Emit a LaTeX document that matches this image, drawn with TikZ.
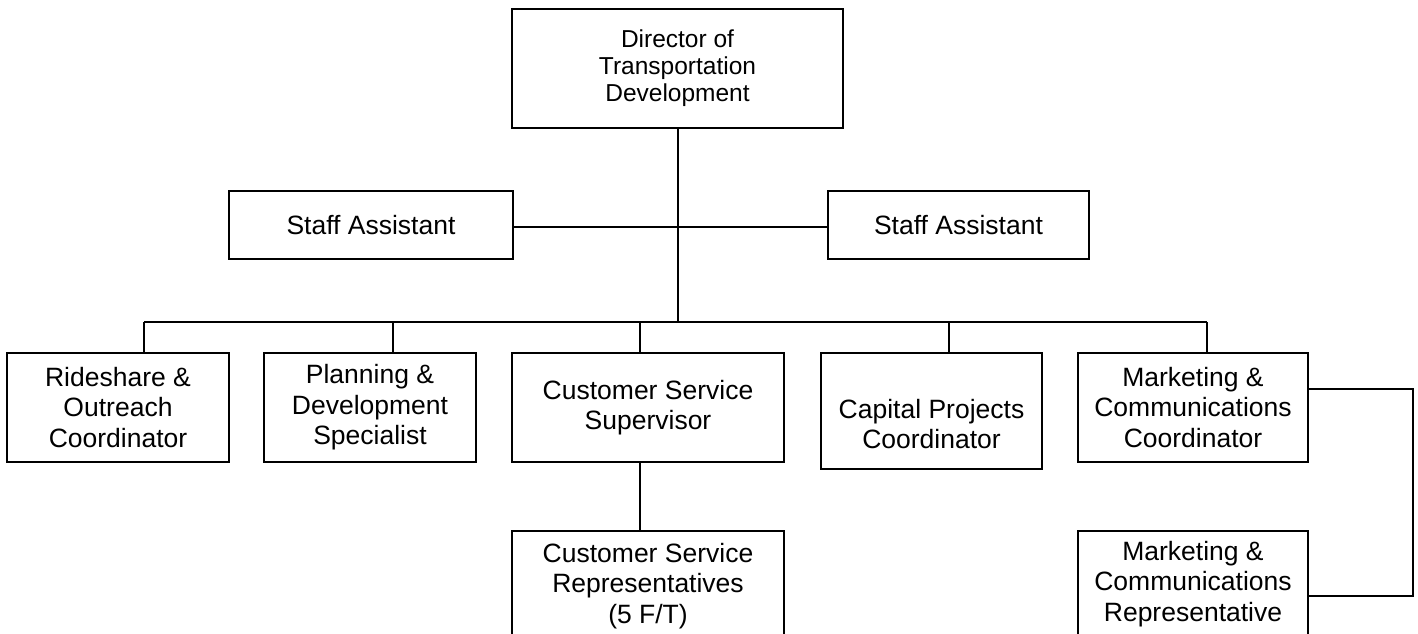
\documentclass[tikz,border=0pt]{standalone}
\usepackage{fontspec}
\setmainfont{Liberation Sans}
\begin{document}
\begin{tikzpicture}[x=1pt,y=-1pt,
  box/.style={draw,line width=2pt,align=center,inner sep=0pt,font=\fontsize{26.5}{30.5}\selectfont},
  txt/.style={align=center,inner sep=0pt,font=\fontsize{26.5}{30.5}\selectfont},
  conn/.style={line width=2pt}]
\path[use as bounding box] (0,0) rectangle (1418,634);
\clip (0,0) rectangle (1418,634);
% top
\node[box,minimum width=331,minimum height=119,font=\fontsize{24.5}{27}\selectfont] (dir) at (677.5,68.5) {Director of\\Transportation\\Development};
\node[box,minimum width=284,minimum height=68] (sa1) at (371,225) {Staff Assistant};
\node[box,minimum width=261,minimum height=68] (sa2) at (958.5,225) {Staff Assistant};
% middle row
\node[box,minimum width=222,minimum height=109] (ride) at (118,407.5) {Rideshare \&\\Outreach\\Coordinator};
\node[box,minimum width=212,minimum height=109] (plan) at (370,407.5) {Planning \&\\Development\\Specialist};
\node[box,minimum width=272,minimum height=109] (css) at (648,407.5) {Customer Service\\Supervisor};
\node[box,minimum width=221,minimum height=116] (cap) at (931.5,411) {};
\node[txt] (capt) at (931.5,424) {Capital Projects\\Coordinator};
\node[box,minimum width=230,minimum height=109] (mkt) at (1193,407.5) {Marketing \&\\Communications\\Coordinator};
% bottom row (cut off by the page edge)
\node[box,minimum width=272,minimum height=140,anchor=north] (csr) at (648,530) {};
\node[txt] (csrt) at (648,586) {Customer Service\\Representatives\\(5 F/T)};
\node[box,minimum width=230,minimum height=140,anchor=north] (rep) at (1193,530) {};
\node[txt] (rept) at (1193,584) {Marketing \&\\Communications\\Representative};
% bus coordinates
\coordinate (b1) at (144,322);
\coordinate (b2) at (393,322);
\coordinate (b3) at (640,322);
\coordinate (b4) at (949,322);
\coordinate (b5) at (1207,322);
\coordinate (k1) at (1413,389);
\coordinate (k2) at (1413,596);
% connectors
\draw[conn] (dir.south) -- (dir.south |- b1);
\draw[conn] (sa1.east |- 0,227) -- (sa2.west |- 0,227);
\draw[conn] (b1) -- (b5);
\draw[conn] (b1) -- (b1 |- ride.north);
\draw[conn] (b2) -- (b2 |- plan.north);
\draw[conn] (b3) -- (b3 |- css.north);
\draw[conn] (b4) -- (b4 |- cap.north);
\draw[conn] (b5) -- (b5 |- mkt.north);
\draw[conn] (b3 |- css.south) -- (b3 |- csr.north);
\draw[conn] (mkt.east |- k1) -- (k1) -- (k2) -- (rep.east |- k2);
\end{tikzpicture}
\end{document}
